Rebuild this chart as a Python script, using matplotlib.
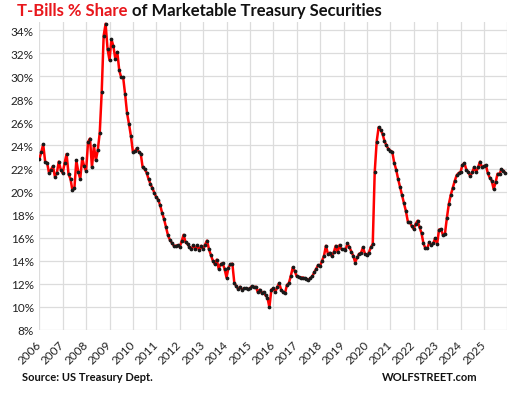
import matplotlib.pyplot as plt
import numpy as np

plt.rcParams['font.family'] = ['Lato', 'DejaVu Sans']

# T-bills as % of marketable Treasury securities, monthly
share_2006 = [22.8, 23.4, 24.1, 22.6, 22.5, 21.6, 21.9, 22.2, 21.3, 21.6, 22.6, 21.9]
share_2007 = [21.6, 22.5, 23.25, 21.5, 21.1, 20.1, 20.3, 22.7, 21.7, 21.1, 22.9, 22.2]
share_2008 = [21.8, 24.3, 24.6, 22.1, 24.0, 22.7, 23.6, 25.1, 28.6, 33.5, 34.55, 32.35]
share_2009 = [31.4, 33.2, 32.6, 31.5, 32.1, 30.5, 29.9, 29.9, 28.45, 26.8, 25.85, 24.8]
share_2010 = [23.45, 23.5, 23.75, 23.45, 23.3, 22.1, 21.95, 21.65, 21.1, 20.65, 20.3, 19.9]
share_2011 = [19.5, 19.3, 18.8, 18.15, 17.6, 16.9, 16.2, 15.8, 15.55, 15.3, 15.3, 15.35]
share_2012 = [15.2, 15.7, 16.25, 15.6, 15.45, 15.2, 15.0, 15.35, 15.0, 15.35, 14.9, 15.3]
share_2013 = [15.0, 15.4, 15.75, 15.0, 14.5, 14.0, 13.7, 14.1, 13.3, 13.7, 13.8, 13.3]
share_2014 = [12.55, 13.4, 13.7, 13.75, 12.1, 11.8, 11.55, 11.75, 11.5, 11.6, 11.6, 11.55]
share_2015 = [11.6, 11.8, 11.7, 11.75, 11.3, 11.5, 11.2, 11.3, 11.0, 10.8, 9.97, 11.5]
share_2016 = [11.6, 11.3, 11.7, 12.07, 11.5, 11.3, 11.2, 11.9, 12.07, 12.7, 13.43, 13.1]
share_2017 = [12.65, 12.6, 12.55, 12.55, 12.5, 12.45, 12.33, 12.5, 12.65, 13.0, 13.3, 13.63]
share_2018 = [13.57, 14.0, 14.44, 15.3, 14.6, 14.7, 14.4, 14.73, 15.3, 14.73, 15.37, 15.0]
share_2019 = [15.0, 14.9, 15.5, 15.2, 14.8, 14.44, 13.85, 14.3, 14.6, 14.7, 15.17, 14.6]
share_2020 = [14.5, 14.7, 15.17, 15.45, 21.67, 24.3, 25.57, 25.37, 25.0, 24.4, 24.0, 23.7]
share_2021 = [23.55, 23.45, 22.5, 21.9, 21.1, 20.4, 19.7, 19.0, 18.3, 17.4, 17.35, 17.0]
share_2022 = [16.75, 17.2, 17.47, 16.9, 16.4, 15.5, 15.08, 15.1, 15.6, 15.35, 15.5, 15.95]
share_2023 = [15.45, 16.7, 16.75, 16.23, 16.3, 17.7, 18.9, 19.7, 20.3, 20.9, 21.4, 21.6]
share_2024 = [21.7, 22.3, 22.47, 21.9, 21.7, 21.32, 21.67, 22.1, 21.7, 22.1, 22.59, 22.1]
share_2025 = [22.2, 22.3, 21.6, 21.2, 20.95, 20.22, 20.8, 21.55, 21.5, 21.95, 21.8, 21.6]

share = (share_2006 + share_2007 + share_2008 + share_2009 + share_2010 +
         share_2011 + share_2012 + share_2013 + share_2014 + share_2015 +
         share_2016 + share_2017 + share_2018 + share_2019 + share_2020 +
         share_2021 + share_2022 + share_2023 + share_2024 + share_2025)
months = 2006 + np.arange(len(share)) / 12

year_ticks = list(range(2006, 2027))
year_labels = [str(y) for y in range(2006, 2026)] + ['']
pct_ticks = list(range(8, 35, 2))
pct_labels = [f'{v}%' for v in pct_ticks]

W, H = 517, 402
fig = plt.figure(figsize=(W / 100, H / 100), dpi=100)
ax = fig.add_axes([39.3 / W, 71 / H, 468 / W, 308 / H])

ax.plot(months, share, color='#ff0000', lw=1.8, marker='o', ms=1.7,
        mfc='#1a1a1a', mec='#1a1a1a', zorder=3)

ax.set_xlim(2006, 2026)
ax.set_ylim(8, 34.7)
ax.set_xticks(year_ticks)
ax.set_xticklabels(year_labels, rotation=45, ha='right', va='center',
                   rotation_mode='anchor', fontsize=8.5, color='#222222')
ax.set_yticks(pct_ticks)
ax.set_yticklabels(pct_labels, fontsize=8.5, color='#222222')
ax.tick_params(length=0)
ax.tick_params(axis='x', pad=9)
ax.tick_params(axis='y', pad=4)
ax.grid(True, color='#dcdcdc', lw=0.9)
ax.set_axisbelow(True)
for s in ax.spines.values():
    s.set_visible(False)

t1 = fig.text(17 / W, 1 - 11 / H, 'T-Bills % Share', color='#e8171c',
              fontsize=12, fontweight='bold', va='center', ha='left')
ax.annotate(' of Marketable Treasury Securities', xy=(1, 0.5), xycoords=t1,
            va='center', ha='left', fontsize=12, fontweight='bold',
            color='#111111', annotation_clip=False)

fig.text(22 / W, 1 - 378 / H, 'Source: US Treasury Dept.', fontsize=8,
         fontweight='bold', va='center', ha='left', color='#111111')
fig.text(478 / W, 1 - 378 / H, 'WOLFSTREET.com', fontsize=8,
         fontweight='bold', va='center', ha='right', color='#111111')

fig.savefig('out.png', dpi=100)
